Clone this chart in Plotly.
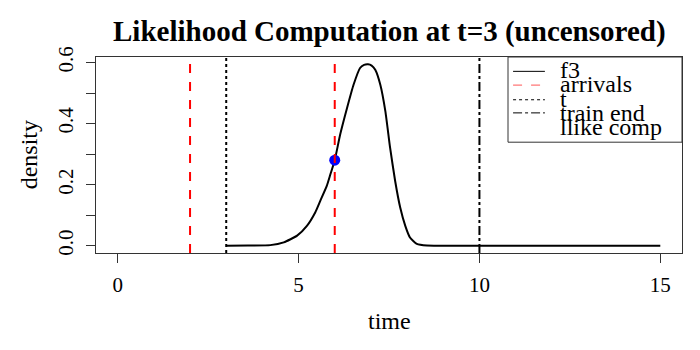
import plotly.graph_objects as go

# density curve f3 (starts at t=3)
time_vals = [3.0, 3.6, 4.22, 4.59, 4.96, 5.23, 5.46, 5.6, 5.78, 5.88, 6.0, 6.15, 6.34,
             6.52, 6.70, 6.81, 6.92, 7.02, 7.12, 7.26, 7.40, 7.53, 7.67, 7.81, 7.95,
             8.08, 8.27, 8.55, 9.0, 12.0, 15.0]
dens_vals = [0.0, 0.0005, 0.002, 0.011, 0.033, 0.065, 0.109, 0.147, 0.196, 0.234, 0.280,
             0.364, 0.451, 0.527, 0.582, 0.592, 0.594, 0.590, 0.576, 0.527, 0.440, 0.321,
             0.212, 0.125, 0.065, 0.027, 0.006, 0.0005, 0.0, 0.0, 0.0]

arrivals = [2, 6]
t_now = 3
train_end = 10
llike_t = 6
llike_val = 0.28

legend_labels = ["f3", "arrivals", "t", "train end", "llike comp"]

FONT = "Liberation Serif, Times New Roman, serif"
y_top = 0.618

fig = go.Figure()

for a in arrivals:
    fig.add_shape(type="line", x0=a, x1=a, y0=0, y1=1, xref="x", yref="y domain",
                  line=dict(color="red", width=2, dash="dash"))
fig.add_shape(type="line", x0=t_now, x1=t_now, y0=0, y1=1, xref="x", yref="y domain",
              line=dict(color="black", width=2, dash="dot"))
fig.add_shape(type="line", x0=train_end, x1=train_end, y0=0, y1=1, xref="x", yref="y domain",
              line=dict(color="black", width=2, dash="dashdot"))

fig.add_trace(go.Scatter(x=time_vals, y=dens_vals, mode="lines",
                         line=dict(color="black", width=2, shape="spline", smoothing=0.5),
                         showlegend=False))
fig.add_trace(go.Scatter(x=[llike_t], y=[llike_val], mode="markers",
                         marker=dict(color="blue", size=11), showlegend=False))

# legend box drawn R-style
fig.add_shape(type="rect", x0=10.79, x1=15.6, y0=0.339, y1=y_top, xref="x", yref="y",
              line=dict(color="#333", width=1), fillcolor="white", layer="above")
sym_y = [0.571, 0.526, 0.478, 0.435, 0.384]
txt_y = [0.574, 0.528, 0.481, 0.436, 0.388]
leg_styles = [("black", "solid"), ("#ff5555", "dash"), ("black", "dot"), ("black", "dashdot")]
for yy, (col, dsh) in zip(sym_y[:4], leg_styles):
    fig.add_shape(type="line", x0=10.93, x1=11.81, y0=yy, y1=yy, xref="x", yref="y",
                  line=dict(color=col, width=1, dash=dsh), layer="above")
fig.add_trace(go.Scatter(x=[11.38], y=[sym_y[4]], mode="markers",
                         marker=dict(color="blue", size=9), showlegend=False, cliponaxis=False))
for yy, lab in zip(txt_y, legend_labels):
    fig.add_annotation(x=12.17, y=yy, xref="x", yref="y", text=lab, showarrow=False,
                       xanchor="left", yanchor="middle", font=dict(family=FONT, size=24, color="black"))

fig.add_annotation(x=0.5, y=1.0, xref="paper", yref="paper", yshift=26,
                   text="<b>Likelihood Computation at t=3 (uncensored)</b>",
                   showarrow=False, xanchor="center", yanchor="middle",
                   font=dict(family=FONT, size=29, color="black"))
fig.add_annotation(x=7.5, y=0, xref="x", yref="paper", yshift=-68, text="time", showarrow=False,
                   xanchor="center", yanchor="middle", font=dict(family=FONT, size=24, color="black"))
fig.add_annotation(x=0, y=0.296, xref="paper", yref="y", xshift=-67, text="density", showarrow=False,
                   textangle=-90, xanchor="center", yanchor="middle",
                   font=dict(family=FONT, size=24, color="black"))

fig.update_layout(
    width=700, height=350,
    margin=dict(l=96, r=18, t=57, b=97, autoexpand=False),
    paper_bgcolor="white", plot_bgcolor="white",
    font=dict(family=FONT, size=21, color="black"),
    showlegend=False,
)
fig.update_xaxes(range=[-0.6, 15.6], tickvals=[0, 5, 10, 15], ticks="outside", ticklen=9,
                 tickcolor="#333", showline=True, linecolor="#333", mirror=True,
                 showgrid=False, zeroline=False, ticklabelstandoff=4, automargin=False)
fig.update_yaxes(range=[-0.0238, y_top], tickvals=[0, 0.1, 0.2, 0.3, 0.4, 0.5, 0.6],
                 ticktext=["0.0", "", "0.2", "", "0.4", "", "0.6"], tickangle=-90,
                 ticks="outside", ticklen=9, tickcolor="#333", showline=True, linecolor="#333",
                 mirror=True, showgrid=False, zeroline=False, automargin=False,
                 ticklabelstandoff=5)

# drop the default 8px body margin so the figure sits at the window origin
fig.write_html("out.html", config={"displayModeBar": False},
               post_script="document.body.style.margin='0';")
